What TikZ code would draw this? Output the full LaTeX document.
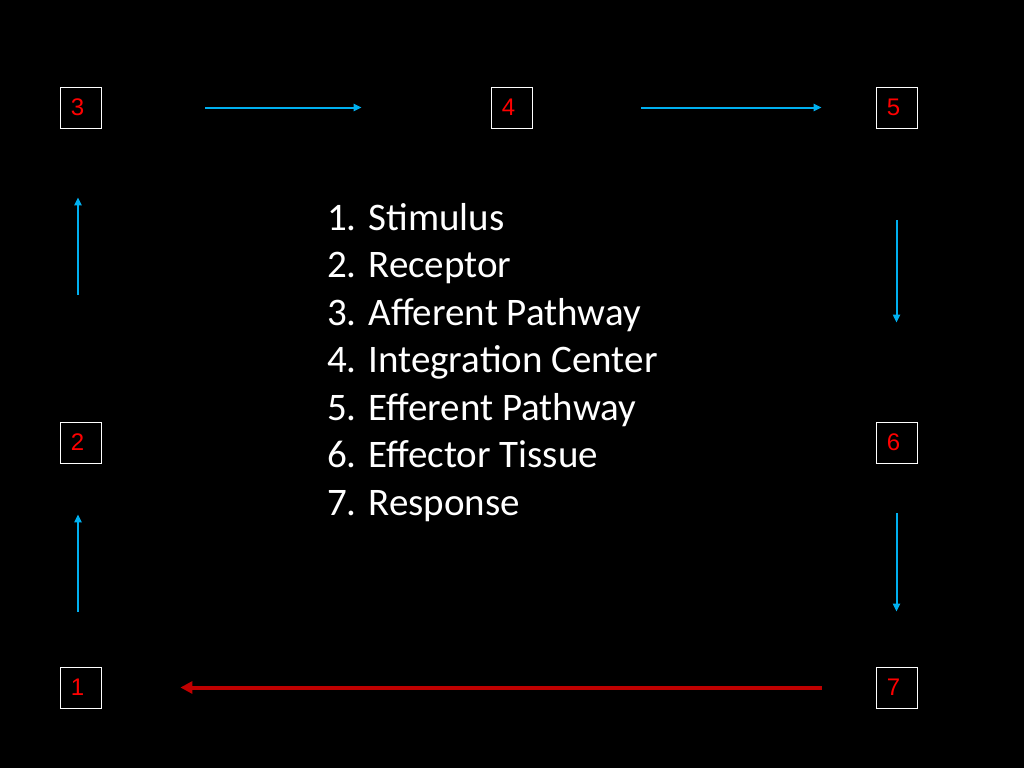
\documentclass[tikz,border=0pt]{standalone}
\usepackage{fontspec}
\setmainfont{Carlito}
\newfontfamily\numfont{Liberation Sans}
\usetikzlibrary{arrows.meta}
\definecolor{arrblue}{HTML}{00B0F0}
\definecolor{arrred}{HTML}{C00000}
\definecolor{numred}{HTML}{FF0000}
\begin{document}
\begin{tikzpicture}[x=1pt,y=-1pt,
  numbox/.style={draw=white,line width=0.8pt,minimum size=41pt,inner sep=0pt,
    text=numred,font=\numfont\fontsize{24}{26}\selectfont},
  bluearrow/.style={draw=arrblue,line width=2pt,-{Triangle[length=8pt,width=7pt]}},
  redarrow/.style={draw=arrred,line width=4pt,-{Triangle[length=12pt,width=12pt]}}]
\fill[black] (0,0) rectangle (1024,768);
\useasboundingbox (0,0) rectangle (1024,768);
\node[numbox] (b3) at (80.5,107.5) {\hspace*{-6pt}3};
\node[numbox] (b4) at (511.5,107.5) {\hspace*{-6pt}4};
\node[numbox] (b5) at (896.5,107.5) {\hspace*{-6pt}5};
\node[numbox] (b2) at (80.5,442.5) {\hspace*{-6pt}2};
\node[numbox] (b6) at (896.5,442.5) {\hspace*{-6pt}6};
\node[numbox] (b1) at (80.5,687.5) {\hspace*{-6pt}1};
\node[numbox] (b7) at (896.5,687.5) {\hspace*{-6pt}7};
\draw[bluearrow,shorten <=104pt,shorten >=129pt] (b3.east) -- (b4.west);
\draw[bluearrow,shorten <=109pt,shorten >=54pt] (b4.east) -- (b5.west);
\draw[bluearrow,shorten <=127pt,shorten >=69pt] ([xshift=-2.5pt]b2.north) -- ([xshift=-2.5pt]b3.south);
\draw[bluearrow,shorten <=55pt,shorten >=51pt] ([xshift=-2.5pt]b1.north) -- ([xshift=-2.5pt]b2.south);
\draw[bluearrow,shorten <=92pt,shorten >=99pt] (b5.south) -- (b6.north);
\draw[bluearrow,shorten <=50pt,shorten >=55pt] (b6.south) -- (b7.north);
\draw[redarrow,shorten <=54pt,shorten >=79pt] (b7.west) -- (b1.east);
\node[anchor=base west,inner sep=0pt,align=left,text=white,
  font=\fontsize{39}{47.5}\selectfont] (list) at (327,515)
  {1. Stimulus\\2. Receptor\\3. Afferent Pathway\\4. Integration Center\\5. Efferent Pathway\\6. Effector Tissue\\7. Response};
\end{tikzpicture}
\end{document}
